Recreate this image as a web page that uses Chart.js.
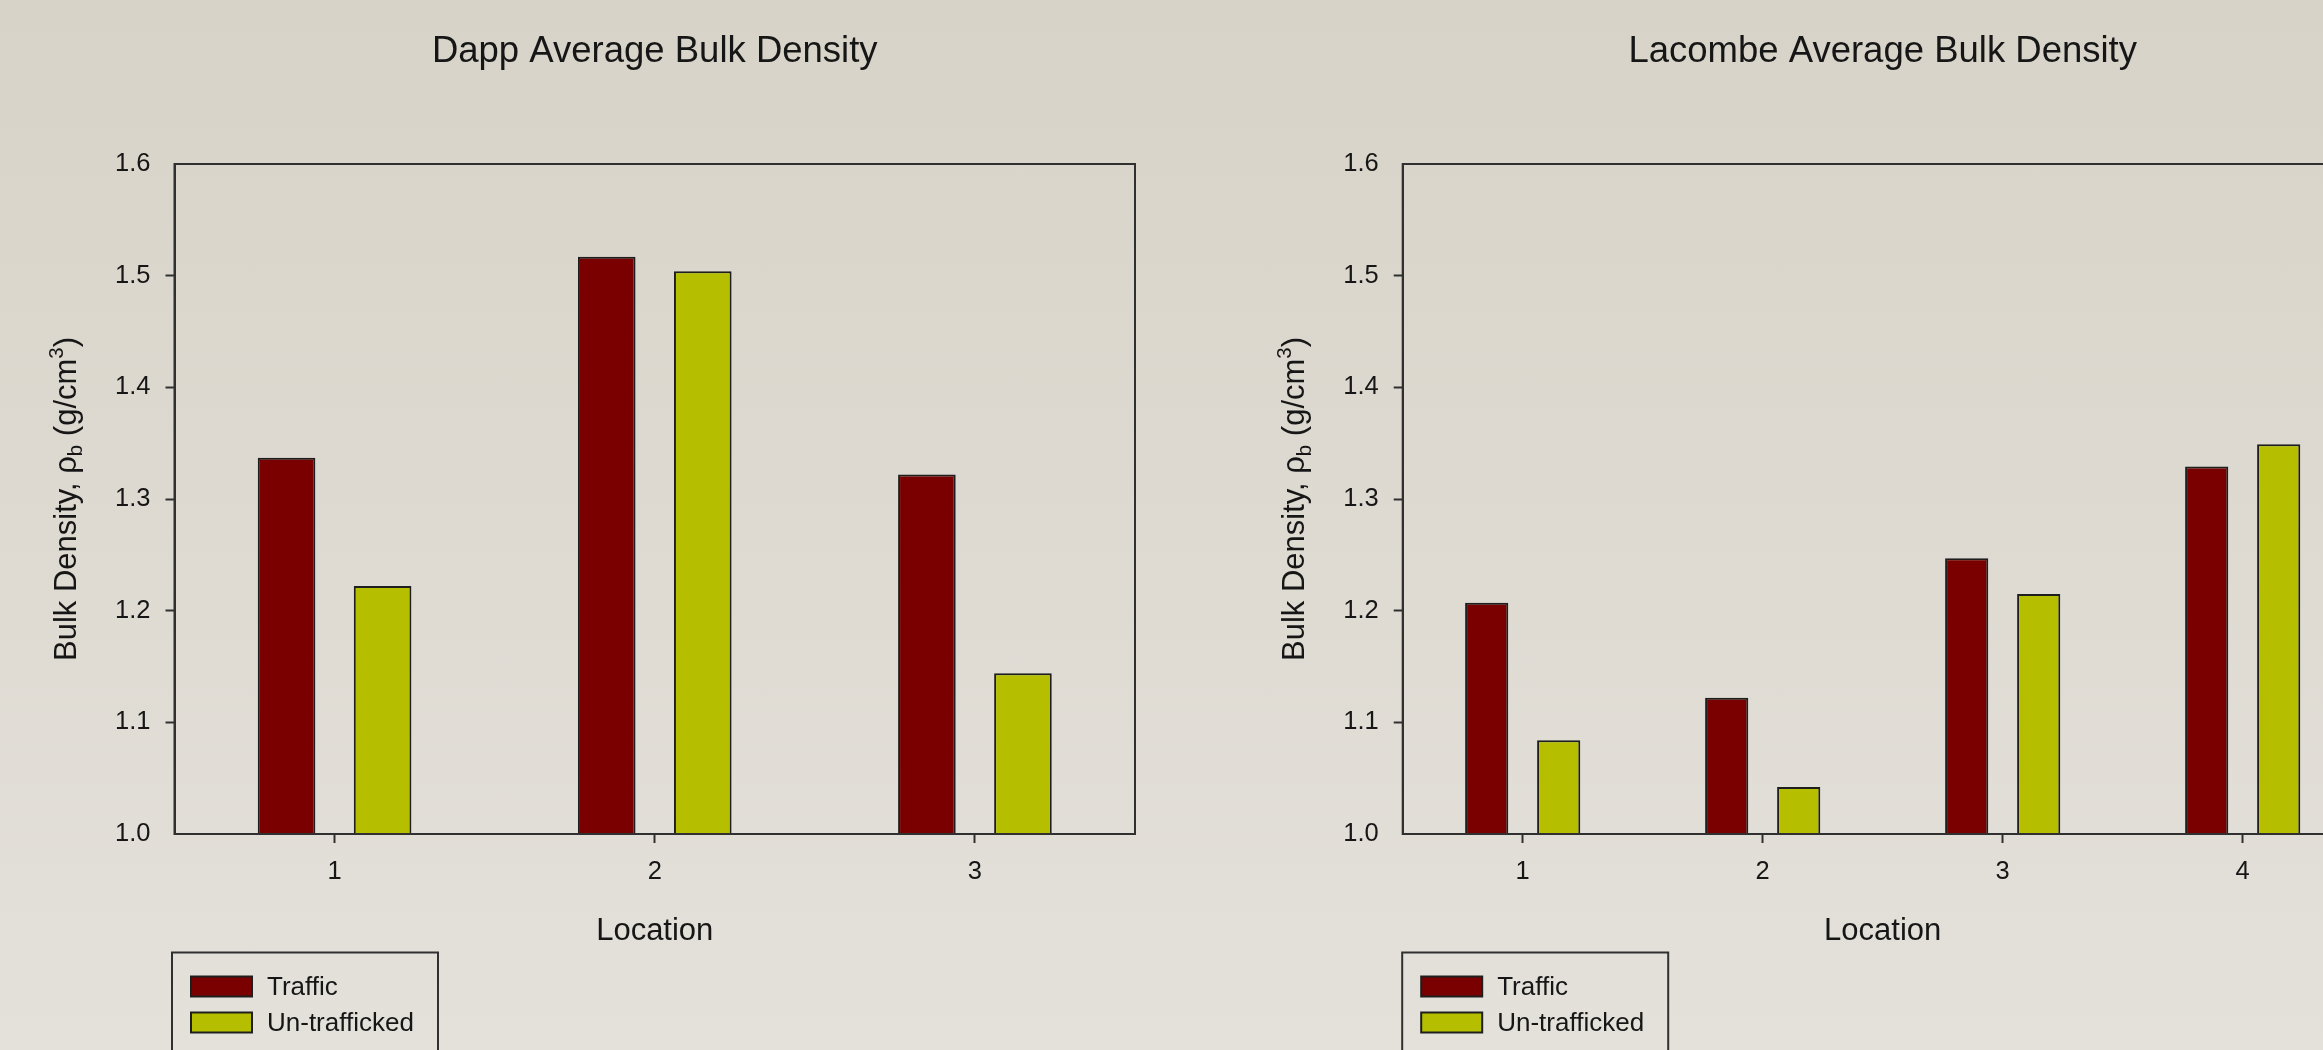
<!DOCTYPE html>
<html>
<head>
<meta charset="utf-8">
<title>Average Bulk Density</title>
<script src="https://cdn.jsdelivr.net/npm/chart.js@4/dist/chart.umd.min.js"></script>
<style>
  html, body {
    margin: 0;
    padding: 0;
    width: 2323px;
    height: 1050px;
    overflow: hidden;
    background: linear-gradient(to bottom, #d7d3c8 0%, #e4e1db 100%);
  }
  canvas { position: absolute; top: 0; display: block; }
  #dapp { left: 0; }
  #lacombe { left: 1200px; }
</style>
</head>
<body>
<canvas id="dapp" width="1200" height="1050"></canvas>
<canvas id="lacombe" width="1250" height="1050"></canvas>
<script>
// ---- data ----
const seriesNames = ['Traffic', 'Un-trafficked'];
const yTickValues = [1.0, 1.1, 1.2, 1.3, 1.4, 1.5, 1.6];

const dappLocations = ['1', '2', '3'];
const dappTraffic = [1.337, 1.517, 1.322];
const dappUntrafficked = [1.222, 1.504, 1.144];

const lacombeLocations = ['1', '2', '3', '4'];
const lacombeTraffic = [1.207, 1.122, 1.247, 1.329];
const lacombeUntrafficked = [1.084, 1.042, 1.215, 1.349];

// ---- styling ----
const FONT = "'Liberation Sans', Arial, Helvetica, sans-serif";
const INK = '#161616';
const FRAME = '#303030';
const TRAFFIC_FILL = '#7a0000';
const UNTRAFFICKED_FILL = '#b5bf00';

// Box around the whole plotting area
const framePlugin = {
  id: 'frame',
  afterDraw(chart) {
    const { ctx, chartArea: a } = chart;
    ctx.save();
    ctx.strokeStyle = FRAME;
    ctx.lineWidth = 2;
    ctx.strokeRect(a.left, a.top, a.right - a.left, a.bottom - a.top);
    ctx.restore();
  }
};

// Vertical value-axis title with subscript / superscript parts
const yTitlePlugin = {
  id: 'yTitle',
  afterDraw(chart, args, opts) {
    const { ctx, chartArea: a } = chart;
    const size = opts.size;
    const parts = opts.parts;
    const fontFor = p => `${p.sub || p.sup ? size * 0.66 : size}px ${FONT}`;
    ctx.save();
    let total = 0;
    for (const p of parts) { ctx.font = fontFor(p); total += ctx.measureText(p.text).width; }
    const cx = a.left + opts.offset;
    const cy = (a.top + a.bottom) / 2;
    ctx.translate(cx, cy);
    ctx.rotate(-Math.PI / 2);
    ctx.fillStyle = INK;
    ctx.textBaseline = 'alphabetic';
    ctx.textAlign = 'left';
    let x = -total / 2;
    const base = size * 0.36;
    for (const p of parts) {
      ctx.font = fontFor(p);
      let y = base;
      if (p.sub) y += size * 0.2;
      if (p.sup) y -= size * 0.42;
      ctx.fillText(p.text, x, y);
      x += ctx.measureText(p.text).width;
    }
    ctx.restore();
  }
};

// Boxed legend under the axis title
const legendBoxPlugin = {
  id: 'legendBox',
  afterDraw(chart, args, opts) {
    const { ctx, chartArea: a } = chart;
    const left = a.left + opts.dx;
    const top = a.bottom + opts.dy;
    ctx.save();
    ctx.strokeStyle = FRAME;
    ctx.lineWidth = 2;
    ctx.strokeRect(left, top, 266, 200);
    ctx.font = `26px ${FONT}`;
    ctx.textBaseline = 'middle';
    ctx.textAlign = 'left';
    chart.data.datasets.forEach((ds, i) => {
      const sx = left + 19;
      const sy = top + 24 + i * 36;
      ctx.fillStyle = ds.backgroundColor;
      ctx.fillRect(sx, sy, 61, 20);
      ctx.strokeStyle = '#1e1e1e';
      ctx.lineWidth = 2;
      ctx.strokeRect(sx, sy, 61, 20);
      ctx.fillStyle = INK;
      ctx.fillText(ds.label, sx + 76, sy + 11);
    });
    ctx.restore();
  }
};

function buildChart(canvasId, titleText, labels, traffic, untrafficked, axisWidth, rightPad, legendDx) {
  const tickColor = c => (c.index === 0 || c.index === yTickValues.length - 1) ? 'rgba(0,0,0,0)' : FRAME;
  return new Chart(document.getElementById(canvasId), {
    type: 'bar',
    data: {
      labels: labels,
      datasets: [
        { label: seriesNames[0], data: traffic, backgroundColor: TRAFFIC_FILL },
        { label: seriesNames[1], data: untrafficked, backgroundColor: UNTRAFFICKED_FILL }
      ]
    },
    options: {
      responsive: false,
      animation: false,
      devicePixelRatio: 1,
      events: [],
      layout: { padding: { left: 0, right: rightPad, top: 0, bottom: 0 } },
      datasets: {
        bar: {
          categoryPercentage: 0.6,
          barPercentage: 0.6,
          borderColor: '#1e1e1e',
          borderWidth: 2,
          borderSkipped: 'start',
          base: 1.0
        }
      },
      scales: {
        x: {
          offset: true,
          grid: {
            display: true,
            offset: false,
            drawOnChartArea: false,
            drawTicks: true,
            tickLength: 9,
            tickWidth: 2,
            tickColor: FRAME
          },
          border: { display: true, color: FRAME, width: 2 },
          ticks: { color: INK, padding: 14, font: { family: FONT, size: 25.5 } },
          title: {
            display: true,
            text: 'Location',
            color: INK,
            font: { family: FONT, size: 31 },
            padding: { top: 0, bottom: 100 }
          },
          afterFit: s => { s.height = 216; }
        },
        y: {
          min: 1.0,
          max: 1.6,
          afterBuildTicks: s => { s.ticks = yTickValues.map(v => ({ value: v })); },
          grid: {
            display: true,
            drawOnChartArea: false,
            drawTicks: true,
            tickLength: 9,
            tickWidth: 2,
            tickColor: tickColor
          },
          border: { display: true, color: FRAME, width: 2 },
          ticks: {
            color: INK,
            padding: 15,
            font: { family: FONT, size: 25.5 },
            callback: v => Number(v).toFixed(1)
          },
          afterFit: s => { s.width = axisWidth; }
        }
      },
      plugins: {
        legend: { display: false },
        tooltip: { enabled: false },
        title: {
          display: true,
          text: titleText,
          fullSize: false,
          color: INK,
          font: { family: FONT, size: 36.5, weight: 'normal' },
          padding: { top: 30.5, bottom: 89.7 }
        },
        yTitle: {
          size: 31,
          offset: -109.5,
          parts: [
            { text: 'Bulk Density, \u03C1' },
            { text: 'b', sub: true },
            { text: ' (g/cm' },
            { text: '3', sup: true },
            { text: ')' }
          ]
        },
        legendBox: { dx: legendDx, dy: 118.5 }
      }
    },
    plugins: [framePlugin, yTitlePlugin, legendBoxPlugin]
  });
}

buildChart('dapp', 'Dapp Average Bulk Density', dappLocations, dappTraffic, dappUntrafficked, 174.5, 65, -2.5);
buildChart('lacombe', 'Lacombe Average Bulk Density', lacombeLocations, lacombeTraffic, lacombeUntrafficked, 202.7, 87.3, -0.5);
</script>
</body>
</html>
